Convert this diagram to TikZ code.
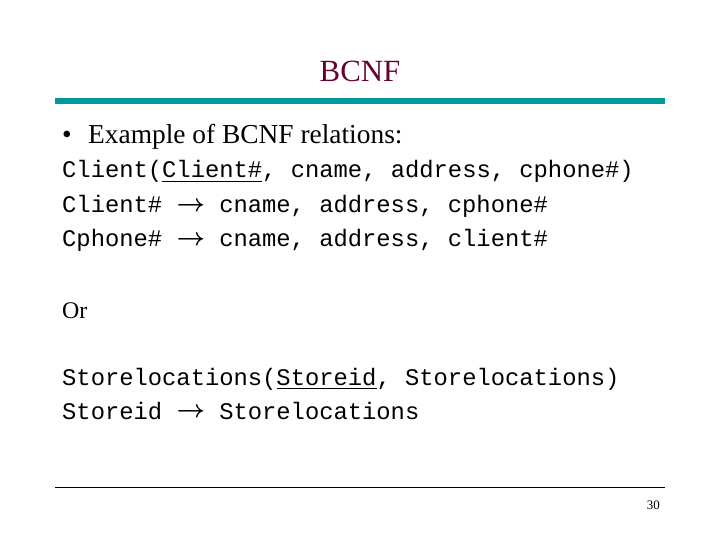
\documentclass[tikz,border=0pt]{standalone}
\usepackage{fontspec}
\setmainfont{Liberation Serif}
\setmonofont{Liberation Mono}
\usepackage{amsmath,bm}
\definecolor{titlered}{RGB}{102,0,51}
\definecolor{barteal}{RGB}{0,153,153}
\newcommand{\fdarrow}{\raisebox{0.05em}{$\bm{\rightarrow}$}}
\begin{document}
\begin{tikzpicture}[x=1bp,y=-1bp,
    body/.style={anchor=base west, inner sep=0pt, font=\fontsize{24}{28}\selectfont},
    code/.style={anchor=base west, inner sep=0pt, font=\ttfamily\fontsize{23.9}{28}\selectfont}]
  \useasboundingbox (0,0) rectangle (720,540);
  % title
  \node[anchor=base, inner sep=0pt, text=titlered, font=\fontsize{31}{34}\selectfont] (title) at (360,82) {BCNF};
  \coordinate (barL) at (55,101);
  \coordinate (barR) at (665,101);
  \draw[barteal, line width=6bp] (barL) -- (barR);
  % text
  \node[body, font=\fontsize{27.5}{30}\selectfont] (bullet) at (62,144) {\textbullet\hspace{0.6em}Example of BCNF relations:};
  \node[code] (rel1) at (62,178) {Client(\underline{Client\#}, cname, address, cphone\#)};
  \node[code] (fd1) at (62,213) {Client\# \fdarrow{} cname, address, cphone\#};
  \node[code] (fd2) at (62,247) {Cphone\# \fdarrow{} cname, address, client\#};
  \node[body] (or) at (62,318) {Or};
  \node[code] (rel2) at (62,385) {Storelocations(\underline{Storeid}, Storelocations)};
  \node[code] (fd3) at (62,419) {Storeid \fdarrow{} Storelocations};
  % footer
  \coordinate (footL) at (55,487);
  \coordinate (footR) at (665,487);
  \draw[line width=0.8bp] (footL) -- (footR);
  \node[anchor=base east, inner sep=0pt, font=\fontsize{13}{15}\selectfont] (page) at (660,509) {30};
\end{tikzpicture}
\end{document}
